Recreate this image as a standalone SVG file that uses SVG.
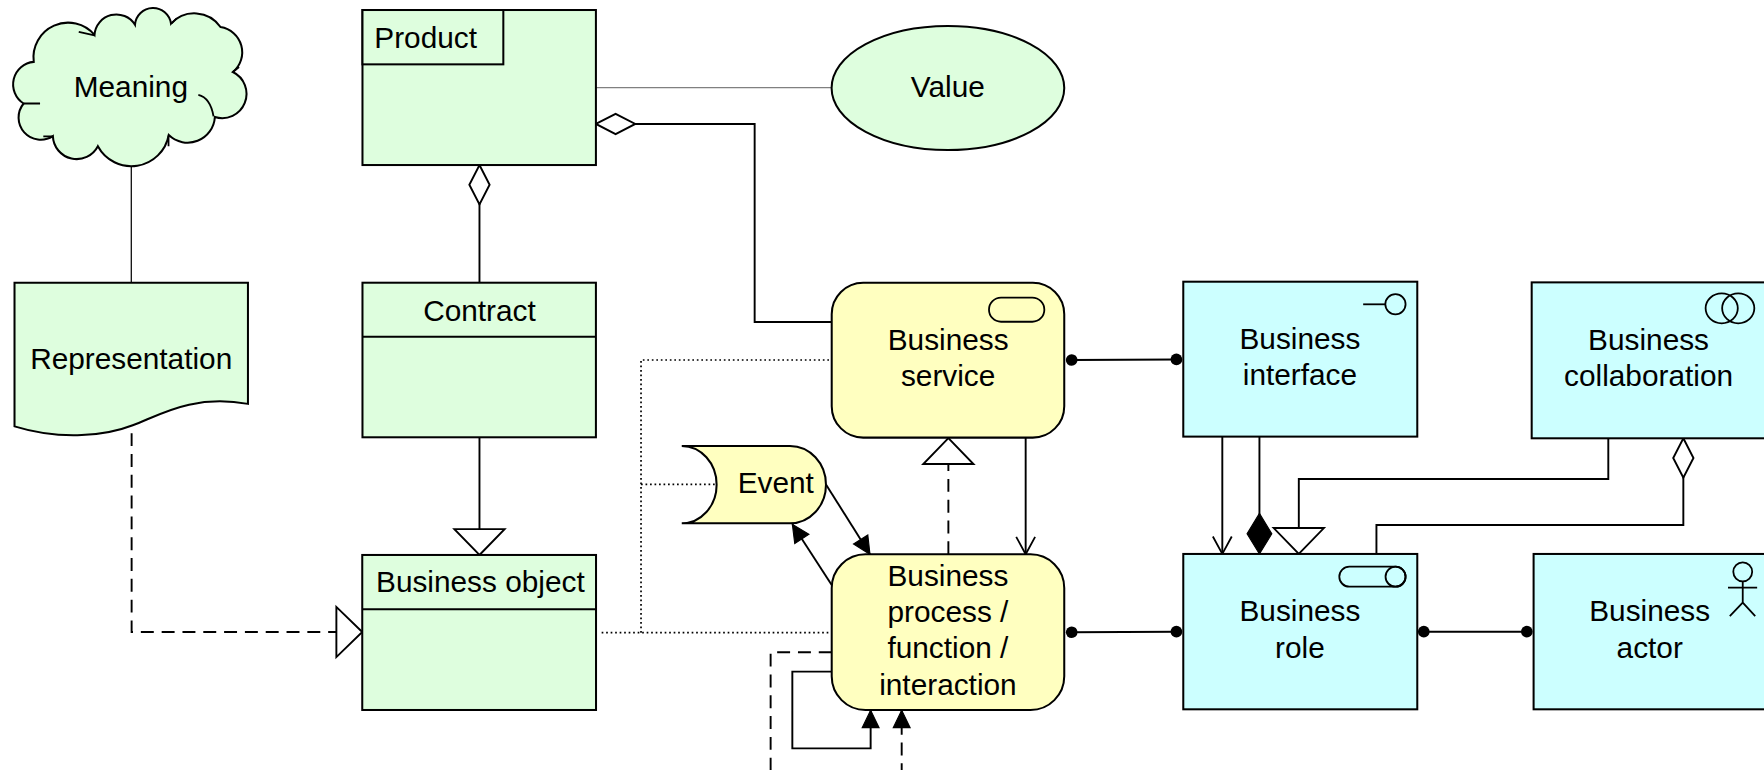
<svg xmlns="http://www.w3.org/2000/svg" width="1764" height="770" viewBox="0 0 1764 770">
<style>
  text { font-family: "Liberation Sans", Arial, sans-serif; font-size: 26.5px; fill: #000; }
  .c { text-anchor: middle; }
  .green { fill: #DEFEDE; stroke: #000; stroke-width: 1.8; }
  .yellow { fill: #FFFFC0; stroke: #000; stroke-width: 1.8; }
  .cyan { fill: #CCFFFF; stroke: #000; stroke-width: 1.8; }
  .icon { fill: none; stroke: #000; stroke-width: 1.6; }
  .ln { fill: none; stroke: #000; stroke-width: 1.7; }
  .thin { fill: none; stroke: #000; stroke-width: 1.1; }
  .gray { fill: none; stroke: #808080; stroke-width: 1.1; }
  .dash { stroke-dasharray: 11.5 7; }
  .dot { fill: none; stroke: #000; stroke-width: 1.5; stroke-dasharray: 1.5 2.5; }
</style>
<defs>
  <marker id="arrowFilled" markerUnits="userSpaceOnUse" markerWidth="40" markerHeight="40" refX="0" refY="0" orient="auto" overflow="visible">
    <path d="M0,0 L-15.5,-7.5 L-15.5,7.5 Z" fill="#000" stroke="#000" stroke-width="1"/>
  </marker>
  <marker id="arrowOpen" markerUnits="userSpaceOnUse" markerWidth="40" markerHeight="40" refX="0" refY="0" orient="auto" overflow="visible">
    <path d="M-15.5,-8.4 L0,0 L-15.5,8.4" fill="none" stroke="#000" stroke-width="1.6"/>
  </marker>
  <marker id="triHollow" markerUnits="userSpaceOnUse" markerWidth="60" markerHeight="60" refX="0" refY="0" orient="auto" overflow="visible">
    <path d="M0,0 L-23,-22.3 L-23,22.3 Z" fill="#fff" stroke="#000" stroke-width="1.7"/>
  </marker>
  <marker id="diamondHollow" markerUnits="userSpaceOnUse" markerWidth="60" markerHeight="60" refX="0" refY="0" orient="auto" overflow="visible">
    <path d="M0,0 L17.5,-9 L35,0 L17.5,9 Z" fill="#fff" stroke="#000" stroke-width="1.7"/>
  </marker>
  <marker id="diamondFilled" markerUnits="userSpaceOnUse" markerWidth="60" markerHeight="60" refX="0" refY="0" orient="auto" overflow="visible">
    <path d="M0,0 L-18,-11 L-36,0 L-18,11 Z" fill="#000" stroke="#000" stroke-width="1"/>
  </marker>
  <marker id="dotEnd" markerUnits="userSpaceOnUse" markerWidth="20" markerHeight="20" refX="0" refY="0" orient="auto" overflow="visible">
    <circle cx="0" cy="0" r="5.2" fill="#000"/>
  </marker>
</defs>
<rect x="0" y="0" width="1764" height="770" fill="#fff"/>
<g transform="scale(1.125)">
  <g id="connectors">
    <path class="thin" d="M116.7,148 V251.3"/>
    <path class="gray" d="M529.7,77.9 H739.3"/>
    <path class="ln" d="M529.7,110.2 H670.8 V286.2 H739.3" marker-start="url(#diamondHollow)"/>
    <path class="ln" d="M426.2,146.7 V251.3" marker-start="url(#diamondHollow)"/>
    <path class="ln" d="M426.2,388.7 V493.3" marker-end="url(#triHollow)"/>
    <path class="ln dash" d="M117,385 V561.8 H322" marker-end="url(#triHollow)"/>
    <path class="dot" d="M534.8,562.4 H739.3"/>
    <path class="dot" d="M569.8,562.4 V320 H739.3"/>
    <path class="dot" d="M569.8,430.6 H637"/>
    <path class="ln" d="M911.7,389 V492.7" marker-end="url(#arrowOpen)"/>
    <path class="ln dash" d="M843,492.7 V389.5" marker-end="url(#triHollow)"/>
    <path class="ln" d="M734.2,430.6 L773.3,492.7" marker-end="url(#arrowFilled)"/>
    <path class="ln" d="M739.3,520 L704.3,466" marker-end="url(#arrowFilled)"/>
    <path class="ln dash" d="M739.3,579.8 H685 V690"/>
    <path class="ln" d="M739.3,597 H704.3 V665.2 H773.9 V631.3" marker-end="url(#arrowFilled)"/>
    <path class="ln dash" d="M801.5,690 V631.3" marker-end="url(#arrowFilled)"/>
    <path class="ln" d="M952.6,320 L1045.7,319.5" marker-start="url(#dotEnd)" marker-end="url(#dotEnd)"/>
    <path class="ln" d="M952.6,562 L1045.7,561.5" marker-start="url(#dotEnd)" marker-end="url(#dotEnd)"/>
    <path class="ln" d="M1265.6,561.5 H1357.2" marker-start="url(#dotEnd)" marker-end="url(#dotEnd)"/>
    <path class="ln" d="M1086.5,388.1 V492.4" marker-end="url(#arrowOpen)"/>
    <path class="ln" d="M1119.5,388.1 V492.4" marker-end="url(#diamondFilled)"/>
    <path class="ln" d="M1429.6,389.6 V425.8 H1154.5 V492.4" marker-end="url(#triHollow)"/>
    <path class="ln" d="M1496.3,389.6 V466.7 H1223.5 V492.4" marker-start="url(#diamondHollow)"/>
  </g>

  <g id="meaning">
    <path class="green" d="M30,55 A30.8,30.8 0 0 1 84,31 A19.5,19.5 0 0 1 120,22 A16.1,16.1 0 0 1 152,21 A28.2,28.2 0 0 1 196,24 A22.7,22.7 0 0 1 207,64 A21.6,21.6 0 0 1 191,104 A24.2,24.2 0 0 1 150,120 A33.8,33.8 0 0 1 87,130 A21.2,21.2 0 0 1 47,121 A19.7,19.7 0 0 1 21,92 A20.1,20.1 0 0 1 30,55 Z"/>
    <path class="icon" d="M21,92 H35.6 M38.5,121.3 H47 M149.8,120.5 V130 M70,28.3 L84,31.5 M152.3,21 L157,16.5 M207,64 L212.5,59.5 M176.3,84.4 Q187,87 189.8,103.5"/>
    <text class="c" x="116.3" y="85.9">Meaning</text>
  </g>

  <g id="representation">
    <path class="green" d="M12.9,251.3 H220.4 V359 C170,350 140,370 118,378 C95,387 55,392 12.9,379 Z"/>
    <text class="c" x="116.6" y="328.3">Representation</text>
  </g>

  <g id="product">
    <rect class="green" x="322.2" y="8.9" width="207.5" height="137.8"/>
    <rect class="green" x="322.2" y="8.9" width="125.2" height="48.3"/>
    <text x="332.7" y="42.9">Product</text>
  </g>

  <g id="value">
    <ellipse class="green" cx="842.6" cy="78.2" rx="103.4" ry="55.1"/>
    <text class="c" x="842.5" y="86.3">Value</text>
  </g>

  <g id="contract">
    <rect class="green" x="322.2" y="251.3" width="207.5" height="137.4"/>
    <line class="ln" x1="322.2" y1="299.3" x2="529.7" y2="299.3"/>
    <text class="c" x="426.2" y="285">Contract</text>
  </g>

  <g id="business-object">
    <rect class="green" x="322" y="493.3" width="207.8" height="137.8"/>
    <line class="ln" x1="322" y1="541.6" x2="529.8" y2="541.6"/>
    <text class="c" x="427" y="526">Business object</text>
  </g>

  <g id="business-service">
    <rect class="yellow" x="739.3" y="251.3" width="206.7" height="137.7" rx="28" ry="28"/>
    <rect class="icon" x="879.1" y="264.6" width="49.2" height="21.4" rx="10.7" ry="10.7"/>
    <text class="c" x="842.8" y="310.8">Business</text>
    <text class="c" x="842.8" y="343.1">service</text>
  </g>

  <g id="event">
    <path class="yellow" d="M606,396.4 H702.2 A32,34.4 0 0 1 702.2,465.2 H606 A31,34.4 0 0 0 606,396.4 Z"/>
    <text class="c" x="689.6" y="438.5">Event</text>
  </g>

  <g id="business-process">
    <rect class="yellow" x="739.3" y="492.7" width="206.7" height="138.4" rx="30" ry="30"/>
    <text class="c" x="842.6" y="520.9">Business</text>
    <text class="c" x="842.6" y="552.9">process /</text>
    <text class="c" x="842.6" y="585.2">function /</text>
    <text class="c" x="842.6" y="617.8">interaction</text>
  </g>

  <g id="business-interface">
    <rect class="cyan" x="1051.8" y="250.4" width="208" height="137.7"/>
    <line class="icon" x1="1211.7" y1="270.5" x2="1231.4" y2="270.5"/>
    <circle class="icon" cx="1240.4" cy="270.5" r="9"/>
    <text class="c" x="1155.5" y="310.4">Business</text>
    <text class="c" x="1155.5" y="342.4">interface</text>
  </g>

  <g id="business-collaboration">
    <rect class="cyan" x="1361.5" y="251" width="230" height="138.6"/>
    <ellipse class="icon" cx="1530.4" cy="274.1" rx="14.3" ry="13.3"/>
    <ellipse class="icon" cx="1545.1" cy="274.1" rx="14.3" ry="13.3"/>
    <text class="c" x="1465.4" y="310.7">Business</text>
    <text class="c" x="1465.4" y="342.7">collaboration</text>
  </g>

  <g id="business-role">
    <rect class="cyan" x="1051.8" y="492.4" width="208" height="138.1"/>
    <rect class="icon" x="1190.5" y="503.7" width="58.9" height="17.8" rx="8.9" ry="8.9"/>
    <circle class="icon" cx="1240.5" cy="512.6" r="8.9"/>
    <text class="c" x="1155.5" y="552">Business</text>
    <text class="c" x="1155.5" y="585">role</text>
  </g>

  <g id="business-actor">
    <rect class="cyan" x="1363.2" y="492.4" width="230" height="138.1"/>
    <circle class="icon" cx="1549.1" cy="508.3" r="8.4"/>
    <path class="icon" d="M1549.1,516.7 V535.7 M1536,522.4 H1561.9 M1537.6,547.6 L1549.1,535.7 L1560.2,547.6"/>
    <text class="c" x="1466.4" y="552">Business</text>
    <text class="c" x="1466.4" y="585.2">actor</text>
  </g>
</g>
</svg>
